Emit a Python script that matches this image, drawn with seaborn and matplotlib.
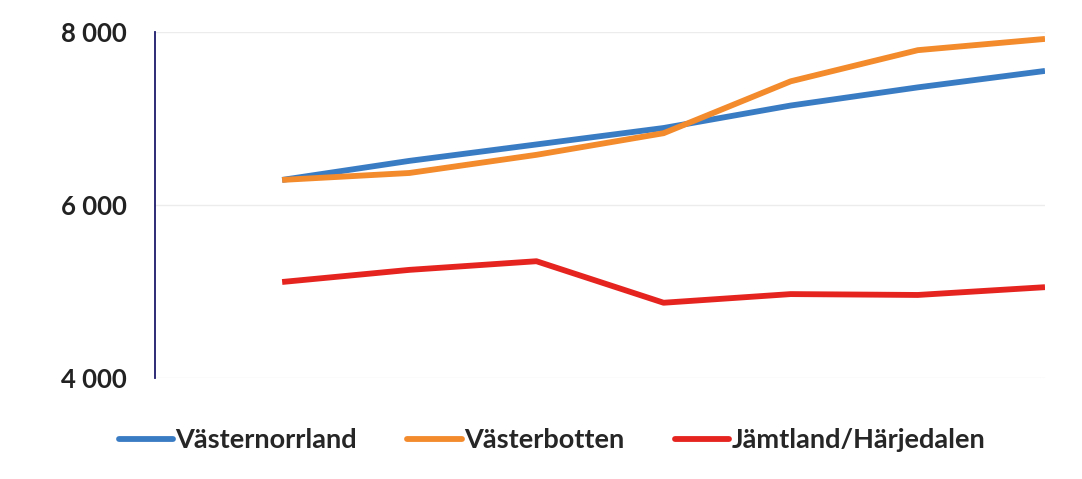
import pandas as pd
import matplotlib.pyplot as plt
import seaborn as sns

# data (no x labels shown, so just step numbers)
steps = [1, 2, 3, 4, 5, 6, 7]
vasternorrland = [6290, 6510, 6700, 6890, 7150, 7360, 7550]
vasterbotten = [6290, 6370, 6580, 6830, 7430, 7790, 7920]
jamtland = [5110, 5250, 5350, 4870, 4970, 4960, 5050]
regions = ["Västernorrland", "Västerbotten", "Jämtland/Härjedalen"]
colors = ["#3A7CC4", "#F38A2C", "#E52420"]

df = pd.DataFrame({
    "step": steps * 3,
    "value": vasternorrland + vasterbotten + jamtland,
    "region": [r for r in regions for _ in steps],
})

sns.set_theme(style="white")
plt.rcParams["font.family"] = ["Lato", "DejaVu Sans"]

fig = plt.figure(figsize=(10.82, 4.79), dpi=100)
ax = fig.add_axes([155 / 1082, 1 - 378 / 479, (1045 - 155) / 1082, (378 - 32) / 479])

sns.lineplot(data=df, x="step", y="value", hue="region", palette=colors,
             linewidth=4.2, ax=ax, legend=False)
for line in ax.lines:
    line.set_solid_capstyle("butt")

ax.set_xlim(0, 7)
ax.set_ylim(4000, 8000)
ax.set_yticks([4000, 6000, 8000])
ax.set_yticklabels(["4 000", "6 000", "8 000"], fontsize=18.5, fontweight="bold", color="#222222")
ax.set_xticks([])
ax.set_xlabel("")
ax.set_ylabel("")
ax.tick_params(axis="y", length=0, pad=20)
ax.grid(axis="y", color="#ececec", linewidth=1)
for s in ["top", "right", "bottom"]:
    ax.spines[s].set_visible(False)
ax.spines["left"].set_color("#1c1a6a")
ax.spines["left"].set_linewidth(1.3)

handles = [plt.Line2D([], [], color=c, linewidth=4.2) for c in colors]
fig.legend(handles, regions, loc="center", bbox_to_anchor=(552 / 1082, 1 - 440 / 479), ncol=3,
           frameon=False, prop={"size": 19.5, "weight": "bold"}, handlelength=2.0,
           handletextpad=0.1, columnspacing=1.85)

plt.savefig("out.png", dpi=100)
plt.close()
